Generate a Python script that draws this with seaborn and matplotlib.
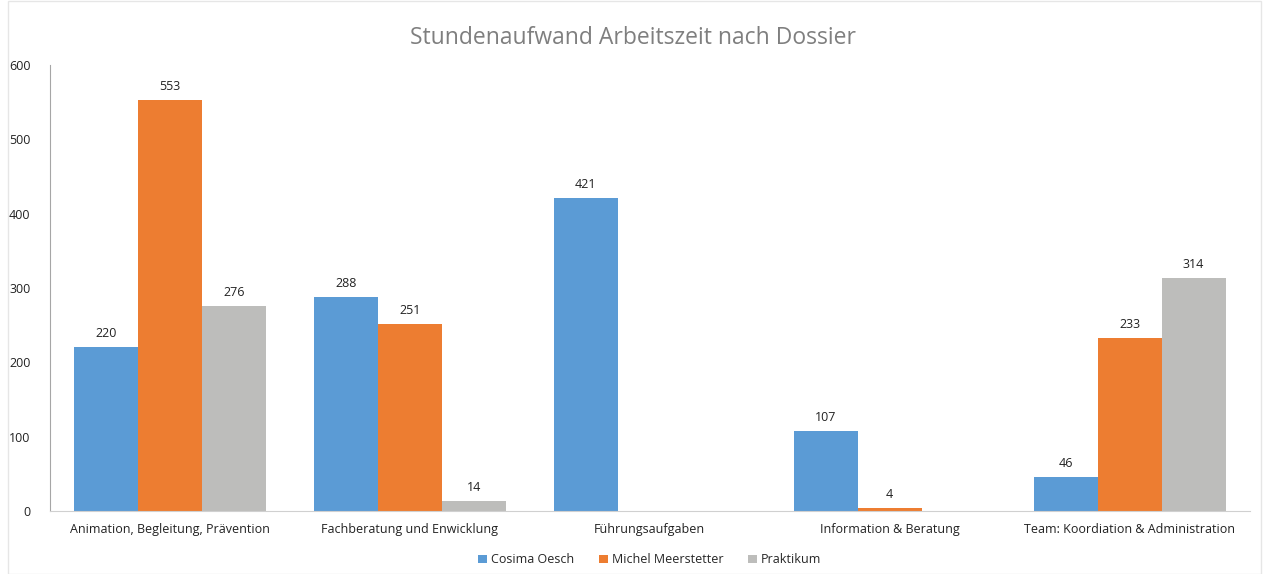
import numpy as np
import pandas as pd
import matplotlib.pyplot as plt
import seaborn as sns

# -----------------------------
# Data
# -----------------------------
categories = [
    "Animation, Begleitung, Prävention",
    "Fachberatung und Enwicklung",
    "Führungsaufgaben",
    "Information & Beratung",
    "Team: Koordiation & Administration",
]
series = ["Cosima Oesch", "Michel Meerstetter", "Praktikum"]
cosima = [220, 288, 421, 107, 46]
michel = [553, 251, 0, 4, 233]
praktikum = [276, 14, 0, 0, 314]
colors = ["#5B9BD5", "#ED7D31", "#BDBDBB"]

df = pd.DataFrame({
    "Dossier": categories * 3,
    "Person": [s for s in series for _ in categories],
    "Stunden": cosima + michel + praktikum,
})

# -----------------------------
# Plot
# -----------------------------
sns.set_style("white")
plt.rcParams["font.family"] = ["Open Sans", "DejaVu Sans"]

fig = plt.figure(figsize=(12.66, 5.74), dpi=100)
ax = fig.add_axes([0.0395, 0.1098, 0.9475, 0.777])

sns.barplot(data=df, x="Dossier", y="Stunden", hue="Person",
            palette=colors, width=0.8, saturation=1, ax=ax, linewidth=0)

for cont in ax.containers:
    labels = [f"{v:.0f}" if v > 0 else "" for v in cont.datavalues]
    ax.bar_label(cont, labels=labels, padding=5, fontsize=9, color="#222222")

ax.set_ylim(0, 600)
ax.set_xlim(-0.5, 4.5)
ax.set_yticks(range(0, 601, 100))
ax.set_xlabel("")
ax.set_ylabel("")
ax.tick_params(axis="both", length=0, labelsize=9, colors="#222222")
ax.tick_params(axis="x", pad=9)
ax.tick_params(axis="y", pad=14)
for s in ["top", "right"]:
    ax.spines[s].set_visible(False)
ax.spines["left"].set_color("#A6A6A6")
ax.spines["bottom"].set_color("#D0D0D0")

fig.suptitle("Stundenaufwand Arbeitszeit nach Dossier", y=0.955,
             fontsize=16.5, color="#7F7F7F")

ax.legend(loc="upper center", bbox_to_anchor=(0.5, -0.07), ncol=3,
          frameon=False, fontsize=9, handlelength=0.7, handleheight=0.7,
          handletextpad=0.3, columnspacing=2.0)

fig.patches.append(plt.Rectangle((0.006, 0.0), 0.99, 0.999, transform=fig.transFigure,
                                 fill=False, edgecolor="#E6E6E6", linewidth=1))

fig.savefig("out.png", dpi=100)
